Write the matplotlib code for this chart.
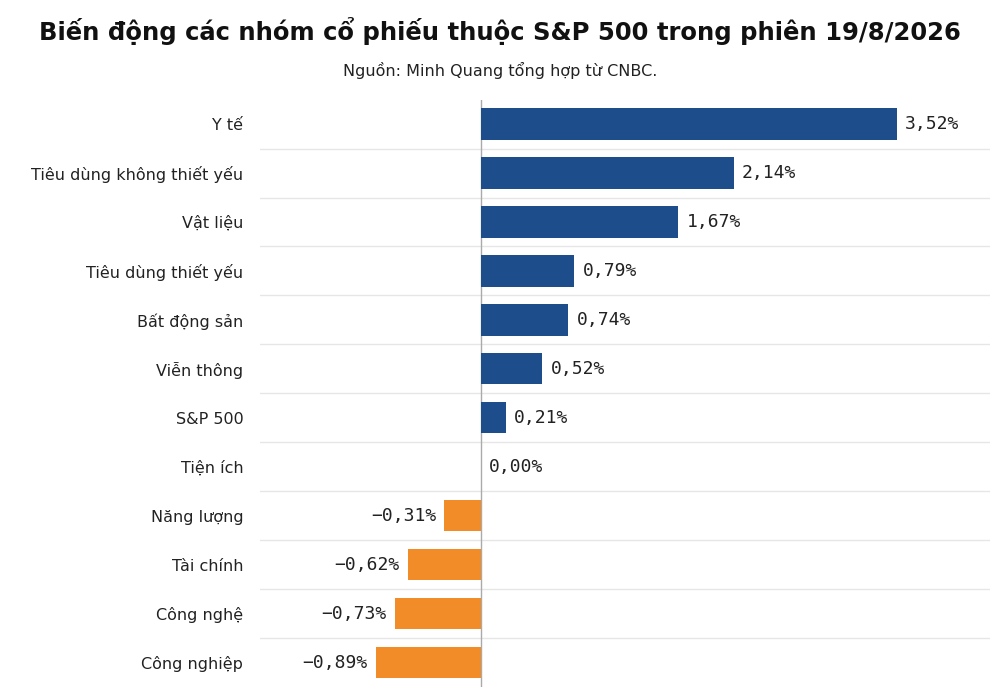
import matplotlib.pyplot as plt

categories = ["Y tế", "Tiêu dùng không thiết yếu", "Vật liệu", "Tiêu dùng thiết yếu",
              "Bất động sản", "Viễn thông", "S&P 500", "Tiện ích", "Năng lượng",
              "Tài chính", "Công nghệ", "Công nghiệp"]
values = [3.52, 2.14, 1.67, 0.79, 0.74, 0.52, 0.21, 0.00, -0.31, -0.62, -0.73, -0.89]

fig = plt.figure(figsize=(10, 6.87), dpi=100)
ax = fig.add_axes([0.26, 0.0, 0.73, 0.855])

ys = list(range(len(values)))
colors = ["#1d4d8a" if v >= 0 else "#f28c28" for v in values]
ax.barh(ys, values, height=0.64, color=colors, zorder=3)

for y, v in zip(ys, values):
    txt = f"{v:.2f}".replace(".", ",").replace("-", "\u2212") + "%"
    if v >= 0:
        ax.text(v + 0.07, y, txt, va="center", ha="left", fontsize=13,
                family="DejaVu Sans Mono", color="#222222")
    else:
        ax.text(v - 0.07, y, txt, va="center", ha="right", fontsize=13,
                family="DejaVu Sans Mono", color="#222222")

for y in ys[:-1]:
    ax.axhline(y + 0.5, color="#e6e6e6", lw=1, zorder=1)
ax.axvline(0, color="#aaaaaa", lw=1, zorder=2)

ax.set_xlim(-1.87, 4.31)
ax.set_ylim(len(values) - 0.5, -0.5)
ax.set_yticks(ys)
ax.set_yticklabels(categories, fontsize=11.5, color="#222222")
ax.tick_params(axis="y", length=0, pad=12)
ax.set_xticks([])
for s in ax.spines.values():
    s.set_visible(False)

fig.text(0.5, 0.955, "Biến động các nhóm cổ phiếu thuộc S&P 500 trong phiên 19/8/2026",
         ha="center", va="center", fontsize=17.5, fontweight="bold", color="#111111")
fig.text(0.5, 0.898, "Nguồn: Minh Quang tổng hợp từ CNBC.", ha="center", va="center",
         fontsize=11.5, color="#222222")

fig.savefig("out.png", dpi=100)
